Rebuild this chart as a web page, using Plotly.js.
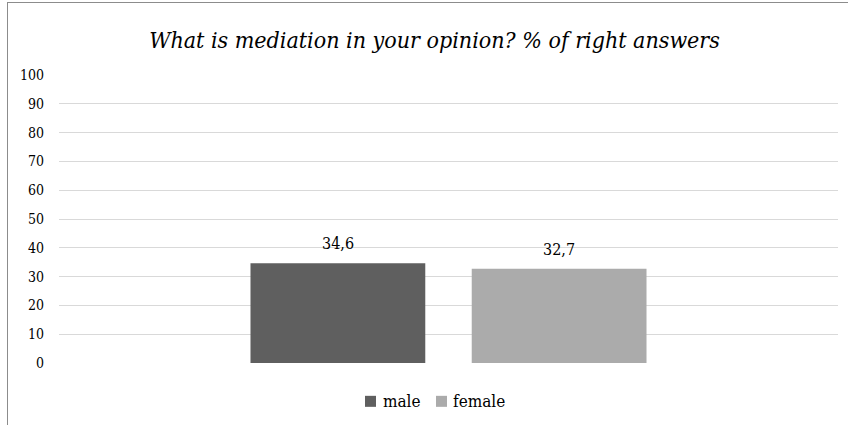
<!DOCTYPE html>
<html>
<head>
<meta charset="utf-8">
<script src="https://cdn.plot.ly/plotly-3.0.1.min.js"></script>
<style>
html,body{margin:0;padding:0;background:#fff;}
#frame{position:absolute;left:7px;top:2px;width:860px;height:440px;border-left:1px solid #8c8c8c;border-top:1px solid #8c8c8c;pointer-events:none;}
#chart{position:absolute;left:0;top:0;width:848px;height:425px;}
</style>
</head>
<body>
<div id="chart"></div>
<div id="frame"></div>
<script>
const categories = ["What is mediation"];
const seriesNames = ["male", "female"];
const maleValues = [34.6];
const femaleValues = [32.7];
const seriesColors = ["#5f5f5f", "#ababab"];
const yTicks = [0,10,20,30,40,50,60,70,80,90,100];

const serif = "DejaVu Serif Condensed, DejaVu Serif";
const values = [maleValues, femaleValues];
const BARGAP = 0.432, GROUPGAP = 0.21;
const fmt = v => v.toFixed(1).replace(".", ",");

const traces = seriesNames.map((n, i) => ({
  type: "bar",
  name: n,
  x: categories,
  y: values[i],
  marker: {color: seriesColors[i]},
  hoverinfo: "none",
  showlegend: false
}));

const annotations = [];
values.forEach((vals, k) => {
  vals.forEach((v, ci) => {
    annotations.push({
      x: ci + (k - (values.length - 1) / 2) * (1 - BARGAP) / values.length,
      y: v, xref: "x", yref: "y", yanchor: "bottom", yshift: 8,
      text: fmt(v), showarrow: false,
      font: {family: serif, size: 16, color: "#000"}
    });
  });
});

const plotL = 59, plotR = 838, plotT = 75, plotB = 362.7;
const pw = plotR - plotL, ph = plotB - plotT;
const px = x => (x - plotL) / pw;
const py = y => (plotB - y) / ph;
const legendY = 401;
const legendItems = [{sq: 365, tx: 381}, {sq: 436, tx: 451}];
const shapes = [];
seriesNames.forEach((n, i) => {
  const it = legendItems[i];
  shapes.push({type: "rect", xref: "paper", yref: "paper",
    x0: px(it.sq), x1: px(it.sq + 11), y0: py(legendY + 5.5), y1: py(legendY - 5.5),
    fillcolor: seriesColors[i], line: {width: 0}});
  annotations.push({xref: "paper", yref: "paper", x: px(it.tx), y: py(legendY),
    xanchor: "left", yanchor: "middle", text: n, showarrow: false,
    font: {family: serif, size: 17, color: "#000"}});
});

const layout = {
  width: 848, height: 425,
  font: {family: serif},
  margin: {l: plotL, r: 848 - plotR, t: plotT, b: 425 - plotB},
  paper_bgcolor: "#fff", plot_bgcolor: "#fff",
  title: {text: "<i>What is mediation in your opinion? % of right answers</i>",
          font: {family: serif, size: 23, color: "#000"},
          x: 0.5124, xanchor: "center", xref: "container",
          y: 0.905, yanchor: "middle", yref: "container"},
  barmode: "group",
  bargap: BARGAP,
  bargroupgap: GROUPGAP,
  showlegend: false,
  xaxis: {showticklabels: false, showgrid: false, zeroline: false, showline: false, ticks: "",
          range: [-0.5, 0.5]},
  yaxis: {range: [0, 100], tickvals: yTicks, ticktext: yTicks.map(String),
          showgrid: true, gridcolor: "#d9d9d9", gridwidth: 1, zeroline: false, showline: false,
          ticks: "", ticklabelstandoff: 14,
          tickfont: {family: serif, size: 14, color: "#000"}},
  annotations: annotations,
  shapes: shapes,
  separators: ",."
};

Plotly.newPlot("chart", traces, layout, {displayModeBar: false, staticPlot: true});
</script>
</body>
</html>
